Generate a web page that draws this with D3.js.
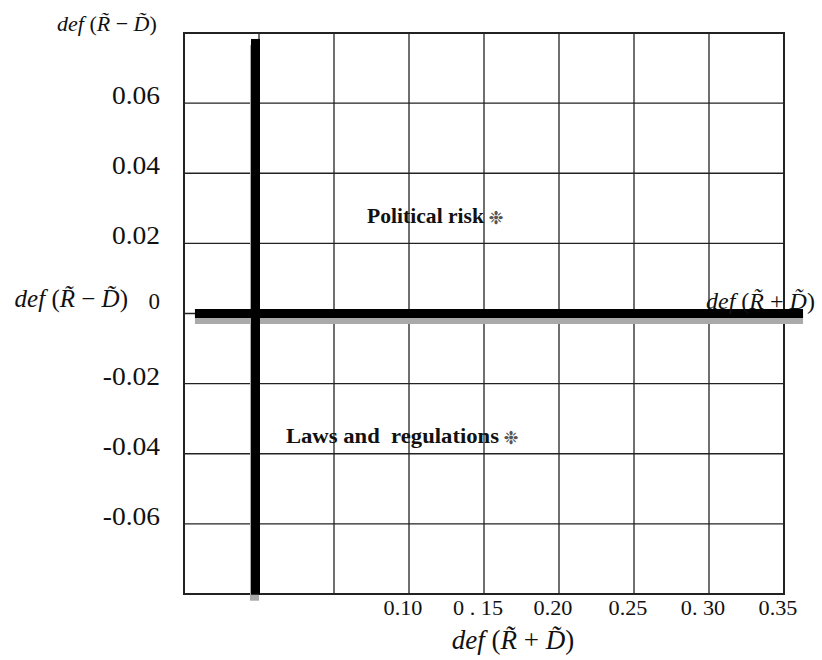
<!DOCTYPE html>
<html>
<head>
<meta charset="utf-8">
<script src="https://cdn.jsdelivr.net/npm/d3@7"></script>
<style>
  html, body { margin: 0; padding: 0; background: #fff; }
  svg text { white-space: pre; }
</style>
</head>
<body>
<svg id="chart" width="822" height="660"></svg>
<script>
// ---- data ----
const xTickValues = [0.10, 0.15, 0.20, 0.25, 0.30, 0.35];
const xTickLabels = ["0.10", "0 . 15", "0.20", "0.25", "0. 30", "0.35"];
const yTickValues = [0.06, 0.04, 0.02, 0, -0.02, -0.04, -0.06];
const yTickLabels = ["0.06", "0.04", "0.02", "0", "-0.02", "-0.04", "-0.06"];
const factors = ["Political risk", "Laws and  regulations"];
const xValues = [0.158, 0.168];
const yValues = [0.0274, -0.0351];
const xGridValues = [-0.05, 0, 0.05, 0.10, 0.15, 0.20, 0.25, 0.30, 0.35];
const yGridValues = [0.08, 0.06, 0.04, 0.02, 0, -0.02, -0.04, -0.06, -0.08];

// ---- layout ----
const svg = d3.select("#chart");
const x = d3.scaleLinear().domain([-0.05, 0.35]).range([184, 784]);
const y = d3.scaleLinear().domain([-0.08, 0.08]).range([594, 33]);
const serif = "'Liberation Serif', 'Times New Roman', serif";

// grid
const grid = svg.append("g");
grid.selectAll("line.v").data(xGridValues).join("line")
  .attr("x1", d => x(d)).attr("x2", d => x(d))
  .attr("y1", y(0.08)).attr("y2", y(-0.08))
  .attr("stroke", "#222").attr("stroke-width", 1.3);
grid.selectAll("line.h").data(yGridValues).join("line")
  .attr("y1", d => y(d)).attr("y2", d => y(d))
  .attr("x1", x(-0.05)).attr("x2", x(0.35))
  .attr("stroke", "#222").attr("stroke-width", 1.3);
// frame
grid.append("rect")
  .attr("x", x(-0.05)).attr("y", y(0.08))
  .attr("width", x(0.35) - x(-0.05)).attr("height", y(-0.08) - y(0.08))
  .attr("fill", "none").attr("stroke", "#222").attr("stroke-width", 2);

// thick axes with gray shadow
const axes = svg.append("g");
const vx0 = x(0) - 8, vw = 9;
const vTop = y(0.0783), vBot = y(-0.0802);
const hx0 = x(-0.0427), hx1 = x(0.3627);
const hy0 = y(0) - 4.5, hh = 9;
axes.append("rect").attr("x", vx0 - 1).attr("y", vTop + 6).attr("width", vw).attr("height", vBot - vTop).attr("fill", "#aaa");
axes.append("rect").attr("x", hx0).attr("y", hy0 + 6).attr("width", hx1 - hx0).attr("height", hh).attr("fill", "#aaa");
axes.append("rect").attr("x", vx0).attr("y", vTop).attr("width", vw).attr("height", vBot - vTop).attr("fill", "#000");
axes.append("rect").attr("x", hx0).attr("y", hy0).attr("width", hx1 - hx0).attr("height", hh).attr("fill", "#000");

// helper for stretched text
function stretchedText(g, tx, ty, sx, txt, size, anchor, weight) {
  return g.append("text")
    .attr("transform", `translate(${tx},${ty}) scale(${sx},1)`)
    .attr("text-anchor", anchor)
    .attr("font-family", serif)
    .attr("font-size", size)
    .attr("font-weight", weight || "normal")
    .attr("fill", "#111")
    .text(txt);
}

// y tick labels
const yt = svg.append("g");
yTickValues.forEach((v, i) => {
  const off = v === 0 ? -5 : 1;
  stretchedText(yt, 160, y(v) + off, v === 0 ? 1.0 : 1.1, yTickLabels[i], v === 0 ? 23 : 25, "end");
});

// x tick labels
const xt = svg.append("g");
xTickValues.forEach((v, i) => {
  stretchedText(xt, x(v) - 6, 615, 1.06, xTickLabels[i], 21, "middle");
});

// math labels def(R~ ± D~)
function mathLabel(tx, ty, size, sx, sign, anchor) {
  const t = svg.append("text")
    .attr("transform", `translate(${tx},${ty}) scale(${sx},1)`)
    .attr("text-anchor", anchor)
    .attr("font-family", serif)
    .attr("font-size", size)
    .attr("fill", "#111");
  t.append("tspan").attr("font-style", "italic").text("def ");
  t.append("tspan").text("(");
  t.append("tspan").attr("font-style", "italic").text("R\u0303");
  t.append("tspan").text(sign === "+" ? " + " : " \u2212 ");
  t.append("tspan").attr("font-style", "italic").text("D\u0303");
  t.append("tspan").text(")");
  return t;
}
mathLabel(57, 31, 22, 1.0, "-", "start");
mathLabel(128, 307, 25, 1.0, "-", "end");
mathLabel(706, 309, 24, 1.0, "+", "start");
mathLabel(513, 649, 27, 1.0, "+", "middle");

// points with labels
const pts = svg.append("g");
factors.forEach((f, i) => {
  const px = x(xValues[i]), py = y(yValues[i]);
  pts.append("text")
    .attr("x", px).attr("y", py + 7)
    .attr("text-anchor", "middle")
    .attr("font-family", "'DejaVu Sans', sans-serif")
    .attr("font-size", 18)
    .attr("fill", "#555")
    .text("\u2749");
  stretchedText(pts, px - 12, py + 6, 1.08, f, i === 0 ? 20 : 21, "end", "bold");
});
</script>
</body>
</html>
